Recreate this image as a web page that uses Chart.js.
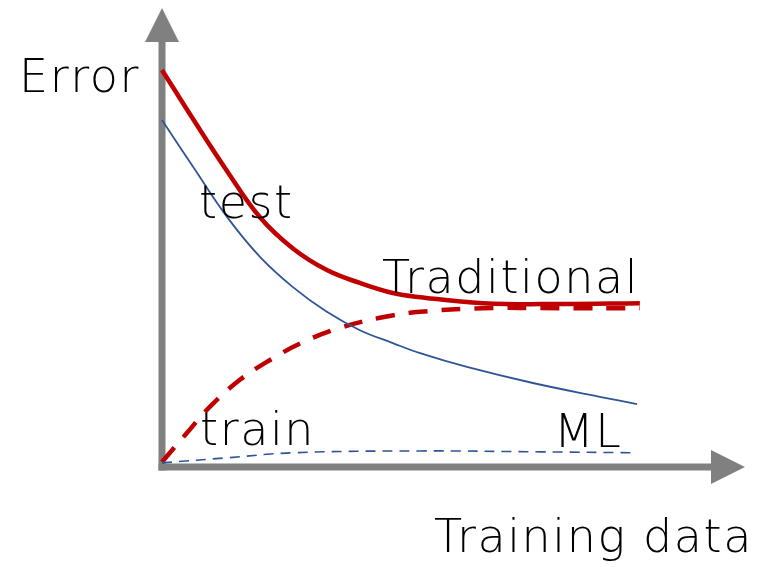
<!DOCTYPE html>
<html>
<head>
<meta charset="utf-8">
<script src="https://cdn.jsdelivr.net/npm/chart.js@4"></script>
<style>
  html, body { margin: 0; padding: 0; background: #fff; }
  #wrap { width: 760px; height: 567px; }
</style>
</head>
<body>
<div id="wrap"><canvas id="curvas"></canvas></div>
<script>
// training data (x) and error (y), both on a 0-100 style scale
const tradTestX = [0, 6.5, 13.6, 20.5, 27.4, 34.5, 41.4, 48.3, 54, 67.2, 83.3, 100];
const tradTestY = [86.5, 75.8, 64.5, 54.4, 47.6, 42.9, 40.1, 37.9, 37.0, 35.7, 35.5, 35.7];

const tradTrainX = [0, 5.2, 10, 16.3, 22.6, 29.5, 37.2, 45.6, 54, 67.2, 83.3, 100];
const tradTrainY = [1.1, 7.4, 13.1, 19.0, 23.3, 27.2, 30.3, 32.5, 33.8, 34.6, 34.6, 34.6];

const mlTestX = [0, 6.5, 13.6, 20.5, 27.4, 34.5, 41.4, 48.3, 54, 63.8, 77.6, 91.6, 99.4];
const mlTestY = [75.6, 65.4, 54.5, 45.8, 39.2, 33.8, 29.8, 27.0, 24.8, 21.8, 18.3, 15.3, 13.7];

const mlTrainX = [0, 13.6, 27.4, 54, 79.1, 99];
const mlTrainY = [0.9, 2.0, 3.1, 3.5, 3.3, 3.1];

const etiquetas = ["test", "train", "Traditional", "ML"];
const ejeY = "Error";
const ejeX = "Training data";

const ROJO = "#c00000";
const AZUL = "#2f5597";
const GRIS = "#808080";
const FUENTE = "200 46px 'DejaVu Sans ExtraLight', 'DejaVu Sans', sans-serif";

const puntos = (xs, ys) => xs.map((x, i) => ({ x: x, y: ys[i] }));

// arrows for the axes + the free text labels
const flechasYTextos = {
  id: "flechasYTextos",
  beforeDatasetsDraw(chart) {
    const { ctx, chartArea: ca } = chart;
    const grosor = 7;
    const largo = 34;
    const medio = 17;
    ctx.save();
    ctx.fillStyle = GRIS;
    // vertical axis
    ctx.fillRect(ca.left - grosor / 2, ca.top + largo, grosor, ca.bottom - ca.top - largo + grosor / 2);
    ctx.beginPath();
    ctx.moveTo(ca.left - medio, ca.top + largo);
    ctx.lineTo(ca.left + medio, ca.top + largo);
    ctx.lineTo(ca.left, ca.top);
    ctx.closePath();
    ctx.fill();
    // horizontal axis
    ctx.fillRect(ca.left - grosor / 2, ca.bottom - grosor / 2, ca.right - ca.left - largo + grosor / 2, grosor);
    ctx.beginPath();
    ctx.moveTo(ca.right - largo, ca.bottom - medio);
    ctx.lineTo(ca.right - largo, ca.bottom + medio);
    ctx.lineTo(ca.right, ca.bottom);
    ctx.closePath();
    ctx.fill();
    ctx.restore();
  },
  afterDatasetsDraw(chart) {
    const { ctx } = chart;
    ctx.save();
    ctx.fillStyle = "#000";
    ctx.font = FUENTE;
    ctx.letterSpacing = "1.6px";
    ctx.textBaseline = "alphabetic";
    ctx.textAlign = "left";
    ctx.fillText(ejeY, 19, 92);
    ctx.fillText(etiquetas[0], 199, 218);
    ctx.fillText(etiquetas[1], 200, 445);
    ctx.fillText(etiquetas[2], 382, 293);
    ctx.fillText(etiquetas[3], 554, 447);
    ctx.fillText(ejeX, 434, 552);
    ctx.restore();
  }
};

new Chart(document.getElementById("curvas"), {
  type: "line",
  data: {
    datasets: [
      {
        label: "ML train",
        data: puntos(mlTrainX, mlTrainY),
        borderColor: AZUL,
        borderWidth: 1.6,
        borderDash: [10, 7],
      },
      {
        label: "ML test",
        data: puntos(mlTestX, mlTestY),
        borderColor: AZUL,
        borderWidth: 1.8,
      },
      {
        label: "Traditional train",
        data: puntos(tradTrainX, tradTrainY),
        borderColor: ROJO,
        borderWidth: 4.5,
        borderDash: [19, 14],
      },
      {
        label: "Traditional test",
        data: puntos(tradTestX, tradTestY),
        borderColor: ROJO,
        borderWidth: 4.5,
      },
    ],
  },
  options: {
    responsive: true,
    maintainAspectRatio: false,
    animation: false,
    events: [],
    layout: { padding: { left: 162, right: 15, top: 8, bottom: 100 } },
    elements: {
      point: { radius: 0 },
      line: { tension: 0.4, fill: false, borderCapStyle: "butt" },
    },
    datasets: { line: { clip: false } },
    plugins: { legend: { display: false }, tooltip: { enabled: false } },
    scales: {
      x: { type: "linear", min: 0, max: 122, display: false },
      y: { type: "linear", min: 0, max: 100, display: false },
    },
  },
  plugins: [flechasYTextos],
});
</script>
</body>
</html>
